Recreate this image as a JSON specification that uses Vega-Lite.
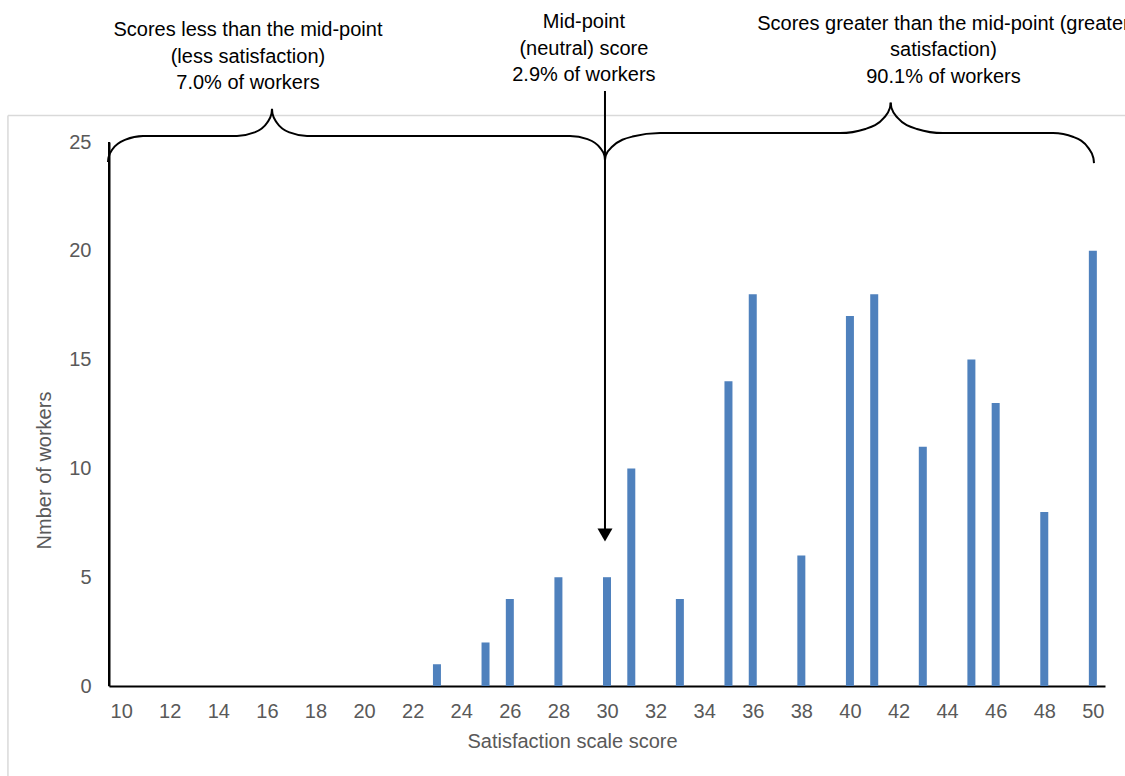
{
  "$schema": "https://vega.github.io/schema/vega-lite/v6.json",
  "width": 996,
  "height": 544,
  "autosize": {"type": "none"},
  "padding": {"left": 109, "top": 142, "right": 20, "bottom": 90},
  "background": "white",
  "config": {
    "view": {"stroke": null},
    "axis": {
      "labelFont": "Liberation Sans",
      "labelFontSize": 20,
      "labelColor": "#595959",
      "titleFont": "Liberation Sans",
      "titleFontSize": 20,
      "titleColor": "#595959",
      "titleFontWeight": "normal",
      "grid": false,
      "ticks": false,
      "domain": true,
      "domainColor": "#000000",
      "domainWidth": 2
    }
  },
  "encoding": {
    "x": {
      "field": "score",
      "type": "quantitative",
      "scale": {"domain": [9.5, 50.5], "nice": false, "zero": false, "padding": 0},
      "axis": {
        "title": "Satisfaction scale score",
        "values": [10, 12, 14, 16, 18, 20, 22, 24, 26, 28, 30, 32, 34, 36, 38, 40, 42, 44, 46, 48, 50],
        "labelPadding": 15,
        "titlePadding": 10,
        "labelAngle": 0,
        "titleX": 463,
        "titleAlign": "center",
        "domain": true
      }
    },
    "y": {
      "field": "workers",
      "type": "quantitative",
      "scale": {"domain": [0, 25], "nice": false, "zero": false, "padding": 0},
      "axis": {
        "title": "Nmber of workers",
        "values": [0, 5, 10, 15, 20, 25],
        "labelPadding": 18,
        "titlePadding": 14,
        "titleY": 328,
        "domain": true
      }
    }
  },
  "layer": [
    {
      "data": {"values": [
        {"score": 5.34, "score2": 51.53, "workers": 26.22, "workers2": 26.22},
        {"score": 5.34, "score2": 5.34, "workers": 26.22, "workers2": -4.32}
      ]},
      "mark": {"type": "rule", "color": "#d9d9d9", "strokeWidth": 1.5},
      "encoding": {
        "x2": {"field": "score2"},
        "y2": {"field": "workers2"}
      }
    },
    {
      "data": {"values": [
        {"score": 9.5, "workers": 0, "workers2": 25}
      ]},
      "mark": {"type": "rule", "color": "#000000", "strokeWidth": 2},
      "encoding": {
        "y2": {"field": "workers2"}
      }
    },
    {
      "data": {"values": [
        {"score": 23, "workers": 1},
        {"score": 25, "workers": 2},
        {"score": 26, "workers": 4},
        {"score": 28, "workers": 5},
        {"score": 30, "workers": 5},
        {"score": 31, "workers": 10},
        {"score": 33, "workers": 4},
        {"score": 35, "workers": 14},
        {"score": 36, "workers": 18},
        {"score": 38, "workers": 6},
        {"score": 40, "workers": 17},
        {"score": 41, "workers": 18},
        {"score": 43, "workers": 11},
        {"score": 45, "workers": 15},
        {"score": 46, "workers": 13},
        {"score": 48, "workers": 8},
        {"score": 50, "workers": 20}
      ]},
      "mark": {"type": "bar", "size": 8, "color": "#4f81bd"}
    },
    {
      "data": {"values": [
        {"seg": "a", "score": 9.459, "workers": 24.08},
        {"seg": "a", "score": 9.48, "workers": 24.29},
        {"seg": "a", "score": 9.652, "workers": 24.68},
        {"seg": "a", "score": 10.179, "workers": 25.11},
        {"seg": "a", "score": 10.9, "workers": 25.28},
        {"seg": "a", "score": 14.769, "workers": 25.28},
        {"seg": "a", "score": 15.489, "workers": 25.44},
        {"seg": "a", "score": 16.016, "workers": 25.9},
        {"seg": "a", "score": 16.189, "workers": 26.3},
        {"seg": "a", "score": 16.21, "workers": 26.52},
        {"seg": "b", "score": 16.21, "workers": 26.52},
        {"seg": "b", "score": 16.23, "workers": 26.3},
        {"seg": "b", "score": 16.403, "workers": 25.9},
        {"seg": "b", "score": 16.93, "workers": 25.44},
        {"seg": "b", "score": 17.651, "workers": 25.28},
        {"seg": "b", "score": 28.477, "workers": 25.28},
        {"seg": "b", "score": 29.197, "workers": 25.13},
        {"seg": "b", "score": 29.724, "workers": 24.72},
        {"seg": "b", "score": 29.897, "workers": 24.37},
        {"seg": "b", "score": 29.917, "workers": 24.17},
        {"seg": "c", "score": 29.917, "workers": 24.17},
        {"seg": "c", "score": 29.95, "workers": 24.39},
        {"seg": "c", "score": 30.222, "workers": 24.79},
        {"seg": "c", "score": 31.049, "workers": 25.25},
        {"seg": "c", "score": 32.182, "workers": 25.41},
        {"seg": "c", "score": 39.591, "workers": 25.41},
        {"seg": "c", "score": 40.637, "workers": 25.6},
        {"seg": "c", "score": 41.398, "workers": 26.11},
        {"seg": "c", "score": 41.645, "workers": 26.56},
        {"seg": "c", "score": 41.678, "workers": 26.81},
        {"seg": "d", "score": 41.678, "workers": 26.81},
        {"seg": "d", "score": 41.711, "workers": 26.56},
        {"seg": "d", "score": 41.966, "workers": 26.11},
        {"seg": "d", "score": 42.757, "workers": 25.6},
        {"seg": "d", "score": 43.831, "workers": 25.41},
        {"seg": "d", "score": 48.359, "workers": 25.41},
        {"seg": "d", "score": 49.203, "workers": 25.23},
        {"seg": "d", "score": 49.82, "workers": 24.72},
        {"seg": "d", "score": 50.022, "workers": 24.27},
        {"seg": "d", "score": 50.047, "workers": 24.03}
      ]},
      "mark": {"type": "line", "interpolate": "monotone", "color": "#000000", "strokeWidth": 2},
      "encoding": {
        "detail": {"field": "seg", "type": "nominal"}
      }
    },
    {
      "data": {"values": [
        {"score": 29.917, "workers": 27.34, "workers2": 7.2}
      ]},
      "mark": {"type": "rule", "color": "#000000", "strokeWidth": 2},
      "encoding": {
        "y2": {"field": "workers2"}
      }
    },
    {
      "data": {"values": [
        {"score": 29.917, "workers": 6.94}
      ]},
      "mark": {"type": "point", "shape": "triangle-down", "size": 225, "filled": true, "color": "#000000", "opacity": 1}
    },
    {
      "data": {"values": [
        {"score": 15.22, "workers": 30.6, "label": "Scores less than the mid-point\n(less satisfaction)\n7.0% of workers"},
        {"score": 29.05, "workers": 30.97, "label": "Mid-point\n(neutral) score\n2.9% of workers"},
        {"score": 43.85, "workers": 30.9, "label": "Scores greater than the mid-point (greater\nsatisfaction)\n90.1% of workers"}
      ]},
      "mark": {"type": "text", "font": "Liberation Sans", "fontSize": 20, "color": "#000000", "align": "center", "baseline": "top", "lineBreak": "\n", "lineHeight": 26.5},
      "encoding": {
        "text": {"field": "label", "type": "nominal"}
      }
    }
  ]
}
